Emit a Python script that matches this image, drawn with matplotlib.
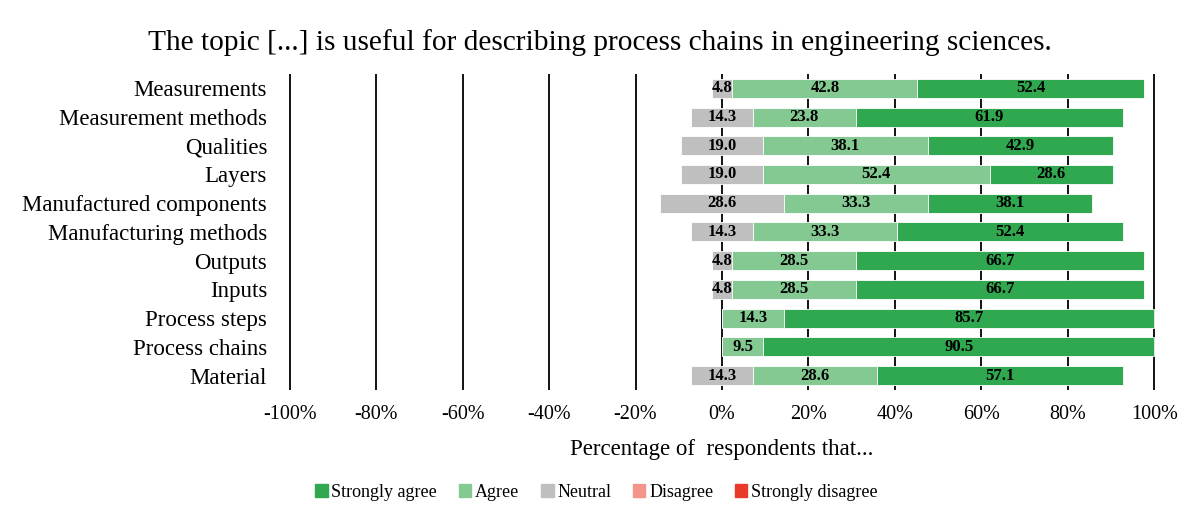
import numpy as np
import matplotlib
matplotlib.use("Agg")
import matplotlib.pyplot as plt
from matplotlib.patches import Patch

plt.rcParams['font.family'] = ['Liberation Serif', 'DejaVu Serif']

# data, top to bottom
topics = ["Measurements", "Measurement methods", "Qualities", "Layers",
          "Manufactured components", "Manufacturing methods", "Outputs",
          "Inputs", "Process steps", "Process chains", "Material"]
strongly_disagree = [0, 0, 0, 0, 0, 0, 0, 0, 0, 0, 0]
disagree = [0, 0, 0, 0, 0, 0, 0, 0, 0, 0, 0]
neutral = [4.8, 14.3, 19.0, 19.0, 28.6, 14.3, 4.8, 4.8, 0, 0, 14.3]
agree = [42.8, 23.8, 38.1, 52.4, 33.3, 33.3, 28.5, 28.5, 14.3, 9.5, 28.6]
strongly_agree = [52.4, 61.9, 42.9, 28.6, 38.1, 52.4, 66.7, 66.7, 85.7, 90.5, 57.1]

ticks = [-100, -80, -60, -40, -20, 0, 20, 40, 60, 80, 100]

c_sa = "#2fa84f"
c_a = "#84c991"
c_n = "#bfbfbf"
c_d = "#f4958b"
c_sd = "#e8392b"

fig = plt.figure(figsize=(12, 5.32), dpi=100)
ax = fig.add_axes([0.24, 0.267, 0.7233, 0.594])

y = np.arange(len(topics))
n = np.array(neutral)
a = np.array(agree)
sa = np.array(strongly_agree)
d = np.array(disagree)
sd = np.array(strongly_disagree)

# neutral is split around zero, agree to the right, disagree to the left
h = 0.66
ax.barh(y, n, left=-n / 2, height=h, color=c_n, edgecolor="white", linewidth=0.6, zorder=2)
ax.barh(y, a, left=n / 2, height=h, color=c_a, edgecolor="white", linewidth=0.6, zorder=2)
ax.barh(y, sa, left=n / 2 + a, height=h, color=c_sa, edgecolor="white", linewidth=0.6, zorder=2)
ax.barh(y, -d, left=-n / 2, height=h, color=c_d, zorder=2)
ax.barh(y, -sd, left=-n / 2 - d, height=h, color=c_sd, zorder=2)

def put_labels(vals, centers):
    for yi, v, cx in zip(y, vals, centers):
        if v > 0:
            ax.text(cx, yi, f"{v:.1f}", ha="center", va="center",
                    fontsize=12, fontweight="bold", zorder=3)

put_labels(n, np.zeros(len(n)))
put_labels(a, n / 2 + a / 2)
put_labels(sa, n / 2 + a + sa / 2)

for t in ticks:
    ax.axvline(t, color="black", linewidth=1.3, zorder=1)

ax.set_xlim(-100.4, 100.4)
ax.set_ylim(len(topics) - 0.5, -0.5)
ax.set_yticks(y)
ax.set_yticklabels(topics, fontsize=16.5)
ax.set_xticks(ticks)
ax.set_xticklabels([f"{t}%" for t in ticks], fontsize=14.5)
ax.tick_params(axis="y", length=0, pad=15)
ax.tick_params(axis="x", length=0, pad=11)
for s in ax.spines.values():
    s.set_visible(False)

ax.set_xlabel("Percentage of  respondents that...", fontsize=16.5)
ax.xaxis.set_label_coords(0.5, -0.155)

fig.suptitle("The topic [...] is useful for describing process chains in engineering sciences.",
             fontsize=21.2, x=0.5, y=0.946)

handles = [Patch(color=c_sa, label="Strongly agree"),
           Patch(color=c_a, label="Agree"),
           Patch(color=c_n, label="Neutral"),
           Patch(color=c_d, label="Disagree"),
           Patch(color=c_sd, label="Strongly disagree")]
fig.legend(handles=handles, loc="center", bbox_to_anchor=(0.497, 0.075), ncol=5,
           frameon=False, fontsize=13, handlelength=0.7, handleheight=0.7,
           handletextpad=0.2, columnspacing=1.2)

fig.savefig("out.png", dpi=100)
